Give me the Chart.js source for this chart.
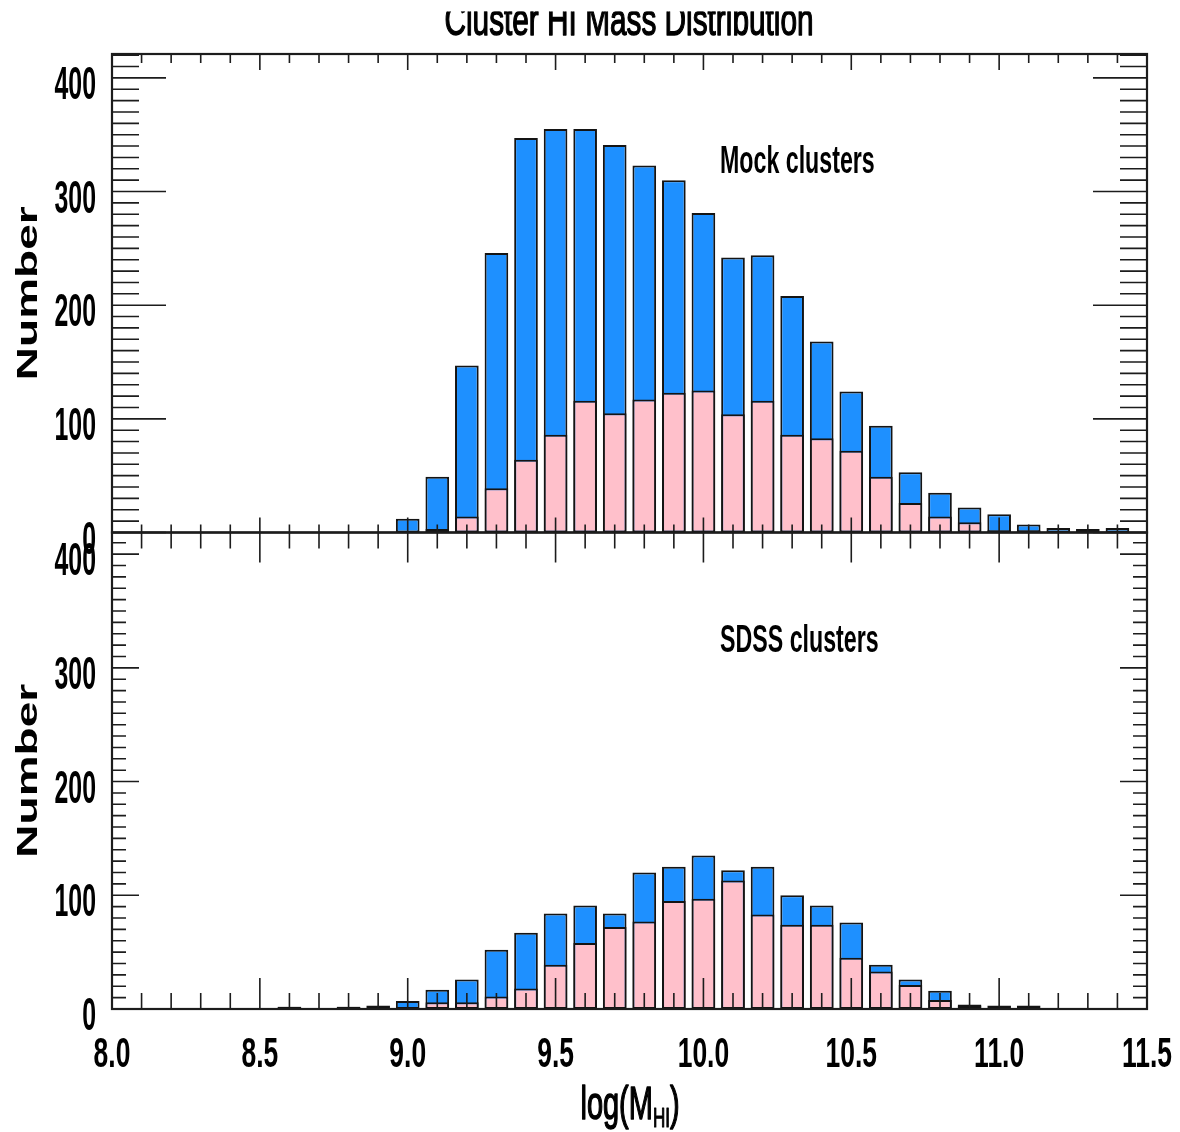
<!DOCTYPE html>
<html><head><meta charset="utf-8">
<script src="https://cdn.jsdelivr.net/npm/chart.js@4.4.0/dist/chart.umd.min.js"></script>
<style>
html,body{margin:0;padding:0;background:#fff;}
#wrap{position:relative;width:1180px;height:1132px;overflow:hidden;background:#fff;}
canvas{position:absolute;left:0;top:0;}
</style></head><body>
<div id="wrap"><canvas id="cTop" width="1180" height="1132"></canvas><canvas id="cBot" width="1180" height="1132"></canvas></div>
<script>
// ---------- data ----------
const chartTitle = 'Cluster HI Mass Distribution';
const panelLabels = ['Mock clusters', 'SDSS clusters'];
const yTitle = 'Number';
const xTitleParts = ['log(M', 'HI', ')'];

const mockBins = [9.0, 9.1, 9.2, 9.3, 9.4, 9.5, 9.6, 9.7, 9.8, 9.9, 10.0, 10.1, 10.2, 10.3, 10.4, 10.5, 10.6, 10.7, 10.8, 10.9, 11.0, 11.1, 11.2, 11.3, 11.4];
const mockAll  = [12, 49, 147, 246, 347, 355, 355, 341, 323, 310, 281, 242, 244, 208, 168, 124, 94, 53, 35, 22, 16, 7, 4, 3, 4];
const mockSub  = [1, 3, 14, 39, 64, 86, 116, 105, 117, 123, 125, 104, 116, 86, 83, 72, 49, 26, 14, 9, 2, 2, 0, 0, 0];

const sdssBins = [8.6, 8.8, 8.9, 9.0, 9.1, 9.2, 9.3, 9.4, 9.5, 9.6, 9.7, 9.8, 9.9, 10.0, 10.1, 10.2, 10.3, 10.4, 10.5, 10.6, 10.7, 10.8, 10.9, 11.0, 11.1];
const sdssAll  = [2, 2, 3, 7, 17, 26, 52, 67, 84, 91, 84, 120, 125, 135, 122, 125, 100, 91, 76, 39, 26, 16, 4, 3, 3];
const sdssSub  = [2, 2, 0, 0, 6, 6, 11, 18, 39, 58, 72, 77, 95, 97, 113, 83, 74, 74, 45, 33, 21, 8, 3, 0, 0];

const xTickValues = [8.0, 8.5, 9.0, 9.5, 10.0, 10.5, 11.0, 11.5];
const xTickLabels = ['8.0', '8.5', '9.0', '9.5', '10.0', '10.5', '11.0', '11.5'];
const yTickValues = [0, 100, 200, 300, 400];
const yTickLabels = ['0', '100', '200', '300', '400'];
const xMinorStep = 0.1, yMinorStep = 10;

// ---------- helpers ----------
const FONT = '"Liberation Sans", Arial, sans-serif';
function sText(ctx, str, x, y, font, sx, align, strokeW) {
  ctx.save();
  ctx.font = font;
  ctx.translate(x, y);
  ctx.scale(sx, 1);
  ctx.textAlign = align;
  ctx.textBaseline = 'alphabetic';
  ctx.fillStyle = '#000';
  ctx.fillText(str, 0, 0);
  if (strokeW) {
    ctx.strokeStyle = '#000';
    ctx.lineWidth = strokeW;
    ctx.lineJoin = 'round';
    ctx.strokeText(str, 0, 0);
  }
  ctx.restore();
}

function framePlugin(o) {
  return {
    id: 'frame',
    afterDatasetsDraw(chart) {
      const ctx = chart.ctx, a = chart.chartArea, x = chart.scales.x, y = chart.scales.y;
      ctx.save();
      ctx.strokeStyle = '#1c1c1c';
      ctx.lineWidth = 1.6;
      ctx.beginPath();
      const nY = Math.floor(y.max / yMinorStep + 1e-6);
      for (let i = 0; i <= nY; i++) {
        const v = i * yMinorStep;
        const py = y.getPixelForValue(v);
        const L = (v % 100 === 0) ? o.yMajor : o.yMinor;
        ctx.moveTo(a.left, py); ctx.lineTo(a.left + L, py);
        ctx.moveTo(a.right, py); ctx.lineTo(a.right - L, py);
      }
      const nX = Math.round((x.max - x.min) / xMinorStep);
      for (let i = 0; i <= nX; i++) {
        const v = x.min + i * xMinorStep;
        const px = x.getPixelForValue(v);
        const major = (i % 5 === 0);
        ctx.moveTo(px, a.top); ctx.lineTo(px, a.top + (major ? o.tMajor : o.tMinor));
        ctx.moveTo(px, a.bottom); ctx.lineTo(px, a.bottom - (major ? o.bMajor : o.bMinor));
      }
      ctx.stroke();
      ctx.lineWidth = 2.2;
      ctx.strokeRect(a.left, a.top, a.right - a.left, a.bottom - a.top);
      ctx.restore();

      // y tick labels
      yTickValues.forEach((v, i) => {
        sText(ctx, yTickLabels[i], 96, y.getPixelForValue(v) + 21, 'bold 46px ' + FONT, 0.54, 'right');
      });
      // y title
      ctx.save();
      ctx.translate(37, (a.top + a.bottom) / 2);
      ctx.rotate(-Math.PI / 2);
      ctx.scale(1, 0.66);
      ctx.font = 'bold 46px ' + FONT;
      ctx.textAlign = 'center';
      ctx.textBaseline = 'alphabetic';
      ctx.fillStyle = '#000';
      ctx.fillText(yTitle, 0, 0);
      ctx.restore();
      // panel label
      sText(ctx, o.label, 720, o.labelY, 'bold 39px ' + FONT, 0.595, 'left');

      if (o.title) {
        ctx.save();
        ctx.beginPath(); ctx.rect(0, 11.5, 1180, 40); ctx.clip();
        sText(ctx, chartTitle, 629, 35, '44px ' + FONT, 0.677, 'center', 1.4);
        ctx.restore();
      }
      if (o.xlabels) {
        xTickValues.forEach((v, i) => {
          sText(ctx, xTickLabels[i], x.getPixelForValue(v), 1067, 'bold 42px ' + FONT, 0.63, 'center');
        });
        // x title with subscript
        const sx = 0.63;
        ctx.save();
        ctx.font = '46px ' + FONT; const w1 = ctx.measureText(xTitleParts[0]).width;
        const w3 = ctx.measureText(xTitleParts[2]).width;
        ctx.font = '27px ' + FONT; const w2 = ctx.measureText(xTitleParts[1]).width;
        ctx.restore();
        const total = (w1 + w2 + w3) * sx;
        let sx0 = 630 - total / 2;
        sText(ctx, xTitleParts[0], sx0, 1119, '46px ' + FONT, sx, 'left', 1.5);
        sText(ctx, xTitleParts[1], sx0 + w1 * sx, 1127, '27px ' + FONT, sx, 'left', 1.2);
        sText(ctx, xTitleParts[2], sx0 + (w1 + w2) * sx, 1119, '46px ' + FONT, sx, 'left', 1.5);
      }
    }
  };
}

function makeChart(id, bins, all, sub, o) {
  const common = { borderColor: '#141414', borderWidth: 2, borderSkipped: false, grouped: false,
                   barPercentage: 0.8, categoryPercentage: 1.0 };
  return new Chart(document.getElementById(id), {
    type: 'bar',
    data: {
      datasets: [
        Object.assign({ label: 'subset', data: bins.map((b, i) => ({ x: b, y: sub[i] })), backgroundColor: '#FFC0CB' }, common),
        Object.assign({ label: 'all', data: bins.map((b, i) => ({ x: b, y: all[i] })), backgroundColor: '#1E90FF' }, common)
      ]
    },
    options: {
      responsive: false, animation: false, events: [],
      layout: { padding: o.pad },
      plugins: { legend: { display: false }, tooltip: { enabled: false }, title: { display: false } },
      scales: {
        x: { type: 'linear', min: 8, max: 11.5, offset: false, display: false },
        y: { type: 'linear', min: 0, max: o.ymax, display: false }
      }
    },
    plugins: [framePlugin(o)]
  });
}

makeChart('cTop', mockBins, mockAll, mockSub, {
  pad: { left: 112, right: 33, top: 54, bottom: 1132 - 532.5 }, ymax: 421,
  yMajor: 54, yMinor: 27, tMajor: 16, tMinor: 9, bMajor: 15, bMinor: 8,
  label: panelLabels[0], labelY: 173, title: true, xlabels: false
});
makeChart('cBot', sdssBins, sdssAll, sdssSub, {
  pad: { left: 112, right: 33, top: 532.5, bottom: 1132 - 1009 }, ymax: 419,
  yMajor: 27, yMinor: 14, tMajor: 30, tMinor: 16, bMajor: 31, bMinor: 16,
  label: panelLabels[1], labelY: 652, title: false, xlabels: true
});
</script>
</body></html>
